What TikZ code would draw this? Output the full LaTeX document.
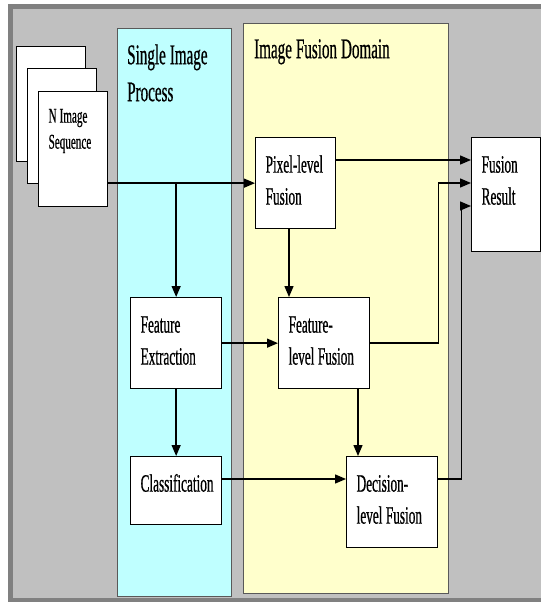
\documentclass[tikz,border=0pt]{standalone}
\usepackage{fontspec}
\setmainfont[FakeStretch=0.53,FakeBold=0.6]{Liberation Serif}
\usetikzlibrary{arrows.meta}
\definecolor{framedark}{HTML}{808080}
\definecolor{framelight}{HTML}{C0C0C0}
\definecolor{singlecyan}{HTML}{BFFFFF}
\definecolor{domainyellow}{HTML}{FFFFCC}
\newcommand{\narrowspace}{\spaceskip=0.14em plus 0.05em\relax}

\begin{document}
\begin{tikzpicture}
  [x=1pt,y=-1pt,
   every node/.style={execute at begin node=\narrowspace},
   blk/.style={draw,fill=white,line width=1.3pt,anchor=north west,align=left,
     inner xsep=10pt,inner ysep=0pt,text height=35pt,
     font=\fontsize{25}{32}\selectfont},
   page/.style={blk,text width=49pt,text height=31pt,text depth=84pt,
     font=\fontsize{21}{26}\selectfont},
   panel/.style={draw=black!65,line width=1.2pt,anchor=north west,inner sep=0pt},
   ttl/.style={anchor=north west,inner sep=0pt,align=left,text height=36pt,
     font=\fontsize{28.5}{37}\selectfont},
   arr/.style={line width=1.4pt,-{Triangle[length=11pt,width=9pt]}}]
  \useasboundingbox (0,0) rectangle (541,602);
  % frame
  \fill[white] (0,0) rectangle (541,602);
  \fill[framedark] (8,4) rectangle (541,602);
  \fill[framelight] (13,9) rectangle (541,598);
  % panels
  \node[panel,fill=singlecyan,minimum width=114pt,minimum height=568pt] (single) at (117,28) {};
  \node[panel,fill=domainyellow,minimum width=205pt,minimum height=570pt] (domain) at (243,23) {};
  \node[ttl,text width=110pt] (singlettl) at ([shift={(10,0)}]single.north west) {Single Image\\Process};
  \node[ttl,text width=190pt] (domainttl) at ([shift={(11,-1)}]domain.north west) {Image Fusion Domain};
  % image stack
  \node[page] (pg1) at (16,46) {};
  \node[page] (pg2) at (27,68) {};
  \node[page] (pg3) at (38,91) {N Image\\Sequence};
  % blocks
  \node[blk,text width=60pt,text depth=56pt] (pix) at (255,137) {Pixel-level\\Fusion};
  \node[blk,text width=49pt,text depth=79pt] (res) at (471,137) {Fusion\\Result};
  \node[blk,text width=71pt,text depth=56pt] (fe) at (130,297) {Feature\\Extraction};
  \node[blk,text width=71pt,text depth=56pt] (ff) at (278,297) {Feature-\\level Fusion};
  \node[blk,text width=71pt,text depth=33pt] (cls) at (130,456) {Classification};
  \node[blk,text width=71pt,text depth=56pt] (dec) at (346,456) {Decision-\\level Fusion};
  % inputs of the result block
  \coordinate (r1) at (471,160);
  \coordinate (r2) at (471,183);
  \coordinate (r3) at (471,206);
  \coordinate (pd) at (289,228);
  \coordinate (fd) at (358,388);
  \coordinate (cd) at (346,479);
  % connectors
  \draw[arr] (pg3.east |- pix.west) -- (pix.west);
  \draw[arr] (fe.north |- pix.west) -- (fe.north);
  \draw[arr] (pix.east |- r1) -- (r1);
  \draw[arr] (pd) -- (pd |- ff.north);
  \draw[arr] (fe.east) -- (ff.west);
  \draw[arr] (ff.east) -- (ff.east -| dec.east) |- (r2);
  \draw[arr] (fd) -- (fd |- dec.north);
  \draw[arr] (fe.south) -- (cls.north);
  \draw[arr] (cls.east |- cd) -- (cd);
  \draw[arr] (dec.east |- cd) -- ++(23,0) |- (r3);
\end{tikzpicture}
\end{document}
